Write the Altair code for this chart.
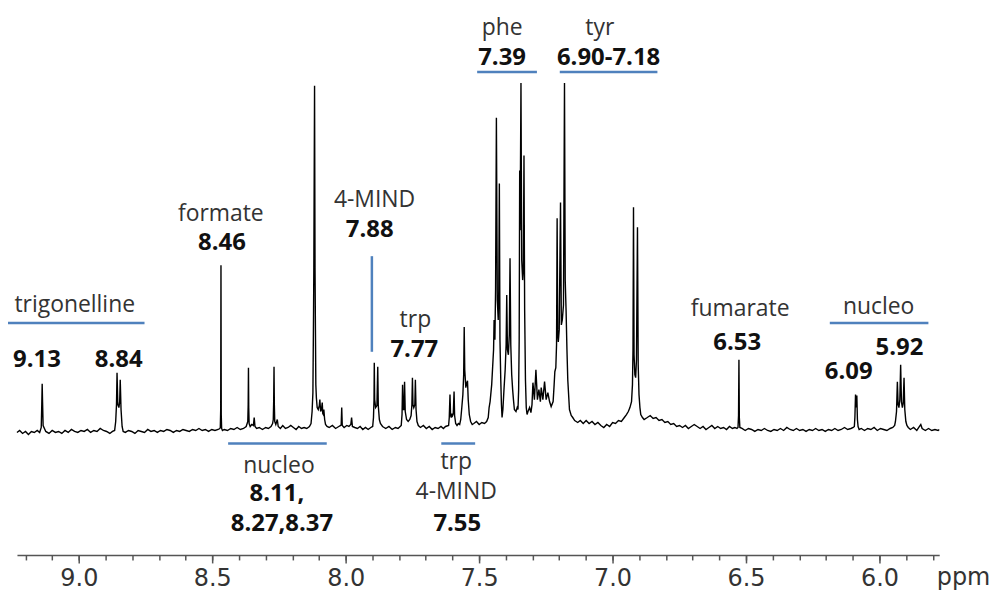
import altair as alt
import pandas as pd

# ---------------- spectrum (ppm, intensity) ----------------
seg_trigonelline = [
    (9.232, -3), (9.222, -1), (9.211, -4), (9.200, -2), (9.189, -5), (9.178, -2), (9.167, -3), (9.156, -1), (9.147, -3),
    (9.141, 2), (9.139, 25), (9.1375, 46), (9.136, 27), (9.134, 4),
    (9.124, -2), (9.112, -4), (9.100, -1), (9.088, -3), (9.076, -2), (9.064, -4), (9.052, -1), (9.040, -3), (9.028, 0),
    (9.016, -2), (9.004, -3), (8.992, -1), (8.980, -2), (8.968, 0), (8.956, -3), (8.944, -1), (8.932, -2), (8.920, 1),
    (8.908, -1), (8.896, -2), (8.884, -4), (8.874, -2), (8.866, -1),
    (8.862, 8), (8.859, 25), (8.857, 57), (8.854, 25), (8.850, 22), (8.847, 28), (8.845, 50), (8.842, 20), (8.838, 3), (8.834, -2),
    (8.826, -3), (8.814, -1), (8.802, -2), (8.790, -4), (8.778, -1), (8.766, -2), (8.754, -3), (8.742, 0), (8.730, -2),
    (8.718, -1), (8.706, -3), (8.694, -1), (8.682, -2), (8.670, 0), (8.658, -1), (8.646, -3), (8.634, -1), (8.622, -2),
    (8.610, 0), (8.598, -1), (8.586, -2), (8.574, 0), (8.562, -1), (8.550, 1), (8.538, -1), (8.526, 0), (8.514, -2),
    (8.502, 0), (8.490, -1), (8.478, 0),
]

seg_formate_nucleo = [
    (8.472, 1), (8.470, 2), (8.4685, 20), (8.4675, 165), (8.4665, 15), (8.465, 1), (8.462, -1),
    (8.455, 0), (8.443, -1), (8.431, 1), (8.419, 0), (8.407, 2), (8.395, 0), (8.383, 1), (8.373, 3),
    (8.367, 8), (8.3655, 25), (8.3645, 62), (8.3635, 22), (8.362, 6), (8.358, 3), (8.352, 5), (8.346, 4), (8.343, 12),
    (8.340, 3), (8.334, 1), (8.324, 2), (8.312, 0), (8.300, 2), (8.290, 1), (8.280, 3), (8.274, 6),
    (8.2715, 10), (8.270, 28), (8.2687, 63), (8.2675, 25), (8.266, 8), (8.262, 5), (8.2565, 10), (8.253, 3), (8.245, 1),
    (8.236, 4), (8.226, 1), (8.216, 2), (8.206, 4), (8.196, 2), (8.186, 0), (8.176, 3), (8.166, 1), (8.156, 2),
    (8.146, 1), (8.136, 3),
    (8.130, 6), (8.126, 18), (8.123, 37), (8.1205, 120), (8.1195, 163), (8.1168, 345), (8.1150, 160), (8.1135, 100),
    (8.112, 45), (8.110, 32),
    (8.107, 22), (8.103, 20), (8.099, 24), (8.097, 30), (8.094, 18), (8.091, 20), (8.088, 27), (8.086, 16), (8.084, 15),
    (8.082, 20), (8.079, 10), (8.0757, 5), (8.070, 3),
    (8.062, 2), (8.050, 4), (8.038, 1), (8.026, 3), (8.019, 4), (8.017, 5), (8.015, 22), (8.013, 4), (8.006, 2),
    (7.996, 4), (7.988, 3), (7.981, 5), (7.978, 12), (7.975, 3), (7.966, 2), (7.956, 1), (7.946, 3), (7.936, 0),
    (7.926, 2), (7.916, 0), (7.906, 2), (7.899, 3),
]

seg_mind_trp = [
    (7.896, 12), (7.894, 30), (7.893, 67), (7.8915, 30), (7.888, 22), (7.883, 24), (7.880, 63), (7.878, 24),
    (7.874, 10), (7.870, 6),
    (7.862, 3), (7.850, 1), (7.838, 3), (7.826, 0), (7.814, 2), (7.804, 1), (7.796, 3),
    (7.792, 4), (7.789, 15), (7.787, 45), (7.785, 20), (7.782, 20), (7.7795, 48), (7.777, 18), (7.772, 10),
    (7.766, 8), (7.760, 10), (7.755, 14), (7.752, 25), (7.750, 52), (7.748, 25), (7.745, 22), (7.741, 25),
    (7.739, 50), (7.7365, 20), (7.733, 8), (7.728, 4),
    (7.720, 2), (7.709, 4), (7.698, 1), (7.687, 3), (7.676, 0), (7.665, 2), (7.654, 1), (7.643, 3), (7.634, 1), (7.626, 3),
    (7.6145, 4), (7.612, 12), (7.6093, 35), (7.607, 14), (7.6045, 12), (7.602, 16), (7.5995, 14), (7.597, 16),
    (7.594, 38), (7.592, 14), (7.588, 6), (7.583, 4), (7.578, 6),
    (7.573, 5), (7.569, 10), (7.565, 22), (7.561, 35), (7.558, 55), (7.556, 103), (7.554, 60), (7.550, 42),
    (7.547, 46), (7.5437, 49), (7.541, 30), (7.537, 15), (7.532, 8), (7.526, 5),
    (7.520, 6), (7.510, 8), (7.500, 5), (7.490, 7), (7.480, 6), (7.472, 8),
]

seg_phe_tyr = [
    (7.466, 12), (7.4627, 22), (7.459, 28), (7.453, 45), (7.448, 70), (7.446, 80), (7.444, 110), (7.441, 90),
    (7.4385, 140), (7.4354, 313), (7.432, 130), (7.4285, 110), (7.4265, 140), (7.4243, 247), (7.422, 90),
    (7.419, 50), (7.4165, 25), (7.4142, 12),
    (7.4110, 20), (7.407, 40), (7.4025, 60), (7.3990, 85), (7.3966, 135), (7.394, 80), (7.3905, 75), (7.387, 95),
    (7.3843, 172), (7.3815, 85), (7.378, 55), (7.3745, 40), (7.3715, 30), (7.368, 20),
    (7.362, 18), (7.3575, 22), (7.3545, 20), (7.352, 40), (7.3500, 90), (7.3481, 260), (7.3465, 200), (7.3433, 348),
    (7.3405, 170), (7.3370, 150), (7.3345, 160), (7.3320, 275), (7.3295, 120), (7.3265, 50), (7.3235, 22), (7.3205, 15),
    (7.317, 18), (7.311, 22), (7.306, 17), (7.302, 25), (7.2985, 47), (7.2929, 30), (7.2873, 60), (7.2817, 30),
    (7.2761, 40), (7.2705, 28), (7.2675, 42), (7.2612, 30), (7.2549, 48), (7.2489, 30), (7.2425, 37), (7.2362, 28),
    (7.2302, 23),
    (7.2228, 28), (7.2190, 45), (7.2164, 58), (7.2127, 62), (7.2100, 85), (7.2078, 212), (7.2055, 95), (7.2034, 88),
    (7.2000, 100), (7.1951, 228), (7.1920, 105), (7.1884, 110), (7.1840, 125), (7.1802, 348), (7.1775, 150),
    (7.1743, 120), (7.1710, 80), (7.1679, 50), (7.1616, 20), (7.1550, 14), (7.1493, 12), (7.1420, 9), (7.1306, 7),
    (7.121, 9), (7.110, 6), (7.099, 9), (7.088, 6), (7.077, 8), (7.066, 5), (7.055, 7), (7.044, 4), (7.033, 2),
    (7.022, 5), (7.011, 3), (7.000, 7), (6.989, 6), (6.978, 9), (6.967, 8), (6.956, 12),
]

seg_tyr_fumarate = [
    (6.948, 15), (6.941, 18), (6.935, 22), (6.929, 28), (6.9255, 45), (6.9235, 80), (6.9216, 223), (6.9195, 75),
    (6.9165, 55), (6.9135, 52), (6.9105, 70), (6.9067, 203), (6.9040, 65), (6.9010, 35), (6.8975, 22), (6.8944, 15),
    (6.8880, 12), (6.8818, 10),
    (6.870, 12), (6.859, 14), (6.848, 11), (6.837, 12), (6.826, 9), (6.815, 10), (6.804, 7), (6.793, 8), (6.782, 5),
    (6.771, 6), (6.760, 3), (6.749, 4), (6.738, 2), (6.727, 4), (6.716, 1), (6.705, 3), (6.694, 5), (6.683, 3),
    (6.672, 1), (6.661, 3), (6.650, 0), (6.639, 2), (6.628, 4), (6.617, 1), (6.606, 3), (6.595, 1), (6.584, 2),
    (6.573, 0), (6.562, 3), (6.551, 1), (6.542, 2), (6.534, 1),
    (6.530, 2), (6.528, 14), (6.5265, 70), (6.525, 12), (6.523, 2),
    (6.515, 1), (6.503, -1), (6.491, 1), (6.479, 0), (6.467, -2), (6.455, 0), (6.443, -1), (6.431, 1), (6.419, -1),
    (6.407, -2), (6.395, 0), (6.383, -1), (6.371, 1), (6.359, -1), (6.347, 2), (6.335, 0), (6.323, -1), (6.311, 1),
    (6.299, -1), (6.287, 0), (6.275, -2), (6.263, 0), (6.251, -1), (6.239, 1), (6.227, -1), (6.215, 0), (6.203, -2),
    (6.191, 0), (6.179, -1), (6.167, 1), (6.155, -1), (6.143, 0), (6.131, 2), (6.119, 0), (6.107, 1), (6.098, 2),
]

seg_nucleo = [
    (6.094, 3), (6.092, 12), (6.0896, 35), (6.0872, 22), (6.0847, 34), (6.0825, 10), (6.080, 3), (6.076, 0),
    (6.068, 1), (6.056, -1), (6.044, 1), (6.032, 0), (6.020, 2), (6.008, -1), (5.996, 1), (5.984, 0), (5.972, -1),
    (5.960, 1), (5.950, 2), (5.943, 4),
    (5.940, 8), (5.936, 18), (5.9328, 48), (5.930, 25), (5.927, 22), (5.9235, 30), (5.9205, 65), (5.9175, 28),
    (5.914, 22), (5.911, 26), (5.9078, 52), (5.905, 20), (5.901, 8), (5.897, 4), (5.892, 2),
    (5.884, 0), (5.872, 2), (5.860, -1), (5.850, 3), (5.845, 5), (5.840, 1), (5.828, -1), (5.816, 1), (5.804, -1),
    (5.792, 0), (5.780, -1), (5.776, 0),
]

# ---------------- axis ticks ----------------
major_ticks = [9.0, 8.5, 8.0, 7.5, 7.0, 6.5, 6.0]
minor_ticks = [9.2, 9.1, 9.0, 8.9, 8.8, 8.7, 8.6, 8.5, 8.4, 8.3, 8.2, 8.1, 8.0, 7.9, 7.8, 7.7, 7.6, 7.5,
               7.4, 7.3, 7.2, 7.1, 7.0, 6.9, 6.8, 6.7, 6.6, 6.5, 6.4, 6.3, 6.2, 6.1, 6.0, 5.9, 5.8]

# ---------------- annotations ----------------
name_labels = ["trigonelline", "formate", "4-MIND", "trp", "trp", "4-MIND", "nucleo", "phe", "tyr", "fumarate", "nucleo"]
name_ppm = [9.0155, 8.468, 7.892, 7.739, 7.586, 7.586, 8.250, 7.414, 7.048, 6.522, 6.003]
name_y = [125, 216, 230, 110, -33, -63, -37, 403, 403, 121, 123]

shift_labels = ["9.13", "8.84", "8.46", "7.88", "7.77", "7.55", "8.11,", "8.27,8.37", "7.39", "6.90-7.18", "6.53", "5.92", "6.09"]
shift_ppm = [9.157, 8.851, 8.464, 7.910, 7.743, 7.582, 8.258, 8.239, 7.414, 7.015, 6.533, 5.925, 6.115]
shift_y = [70, 70, 187, 200, 80, -95, -65, -95, 373, 373, 87, 82, 58]

bracket_start = [9.295, 8.4407, 7.6419, 7.5075, 7.1979, 6.186, 7.902]
bracket_end = [8.754, 8.0711, 7.515, 7.2835, 6.832, 5.8165, 7.902]
bracket_y1 = [107, -14, -14, 359, 359, 107, 174]
bracket_y2 = [107, -14, -14, 359, 359, 107, 78]

# ---------------- build tables ----------------
spectrum = seg_trigonelline + seg_formate_nucleo + seg_mind_trp + seg_phe_tyr + seg_tyr_fumarate + seg_nucleo
df_spec = pd.DataFrame(spectrum, columns=["ppm", "intensity"])
df_names = pd.DataFrame({"label": name_labels, "ppm": name_ppm, "y": name_y})
df_shifts = pd.DataFrame({"label": shift_labels, "ppm": shift_ppm, "y": shift_y})
df_br = pd.DataFrame({"x1": bracket_start, "x2": bracket_end, "y1": bracket_y1, "y2": bracket_y2})

x_scale = alt.Scale(domain=[5.776, 9.232], reverse=True, nice=False, zero=False)
y_scale = alt.Scale(domain=[-126, 422], nice=False, zero=False)

AX = "#555555"
major_axis = alt.Axis(
    values=major_ticks, format=".1f", orient="bottom", grid=False,
    tickSize=8, tickWidth=1.5, tickColor=AX, domainColor=AX, domainWidth=1.5,
    labelFont="DejaVu Sans", labelFontSize=24, labelColor="#333333", labelPadding=4,
    labelFlush=False, labelOverlap=False,
    title="ppm", titleFont="DejaVu Sans", titleFontSize=24, titleFontWeight="normal", titleColor="#333333",
    titleX=923, titleY=11, titleAlign="left", titleBaseline="top", titleAngle=0,
)
minor_axis = alt.Axis(
    values=minor_ticks, orient="bottom", grid=False, labels=False, domain=False,
    tickSize=5, tickWidth=1.5, tickColor=AX, title=None,
)

line = alt.Chart(df_spec).mark_line(color="#000000", strokeWidth=1.4).encode(
    x=alt.X("ppm:Q", scale=x_scale, axis=major_axis),
    y=alt.Y("intensity:Q", scale=y_scale, axis=None),
)

BLUE = "#4f81bd"
brackets = alt.Chart(df_br).mark_rule(color=BLUE, strokeWidth=2.5).encode(
    x=alt.X("x1:Q", scale=x_scale, axis=minor_axis),
    x2="x2:Q",
    y=alt.Y("y1:Q", scale=y_scale, axis=None),
    y2="y2:Q",
)

names = alt.Chart(df_names).mark_text(
    font="Open Sans", fontSize=23, color="#333333", align="center", baseline="middle"
).encode(
    x=alt.X("ppm:Q", scale=x_scale, axis=None),
    y=alt.Y("y:Q", scale=y_scale, axis=None),
    text="label:N",
)

shifts = alt.Chart(df_shifts).mark_text(
    font="Open Sans", fontSize=24, fontWeight="bold", color="#111111", align="center", baseline="middle"
).encode(
    x=alt.X("ppm:Q", scale=x_scale, axis=None),
    y=alt.Y("y:Q", scale=y_scale, axis=None),
    text="label:N",
)

chart = alt.layer(line, brackets, names, shifts).resolve_axis(x="independent").properties(
    width=926, height=548,
    padding={"left": 9, "top": 0, "right": 52, "bottom": 36},
    autosize="none",
    background="white",
).configure_view(strokeWidth=0)

chart.save("out.html", embed_options={"renderer": "svg", "actions": False})
